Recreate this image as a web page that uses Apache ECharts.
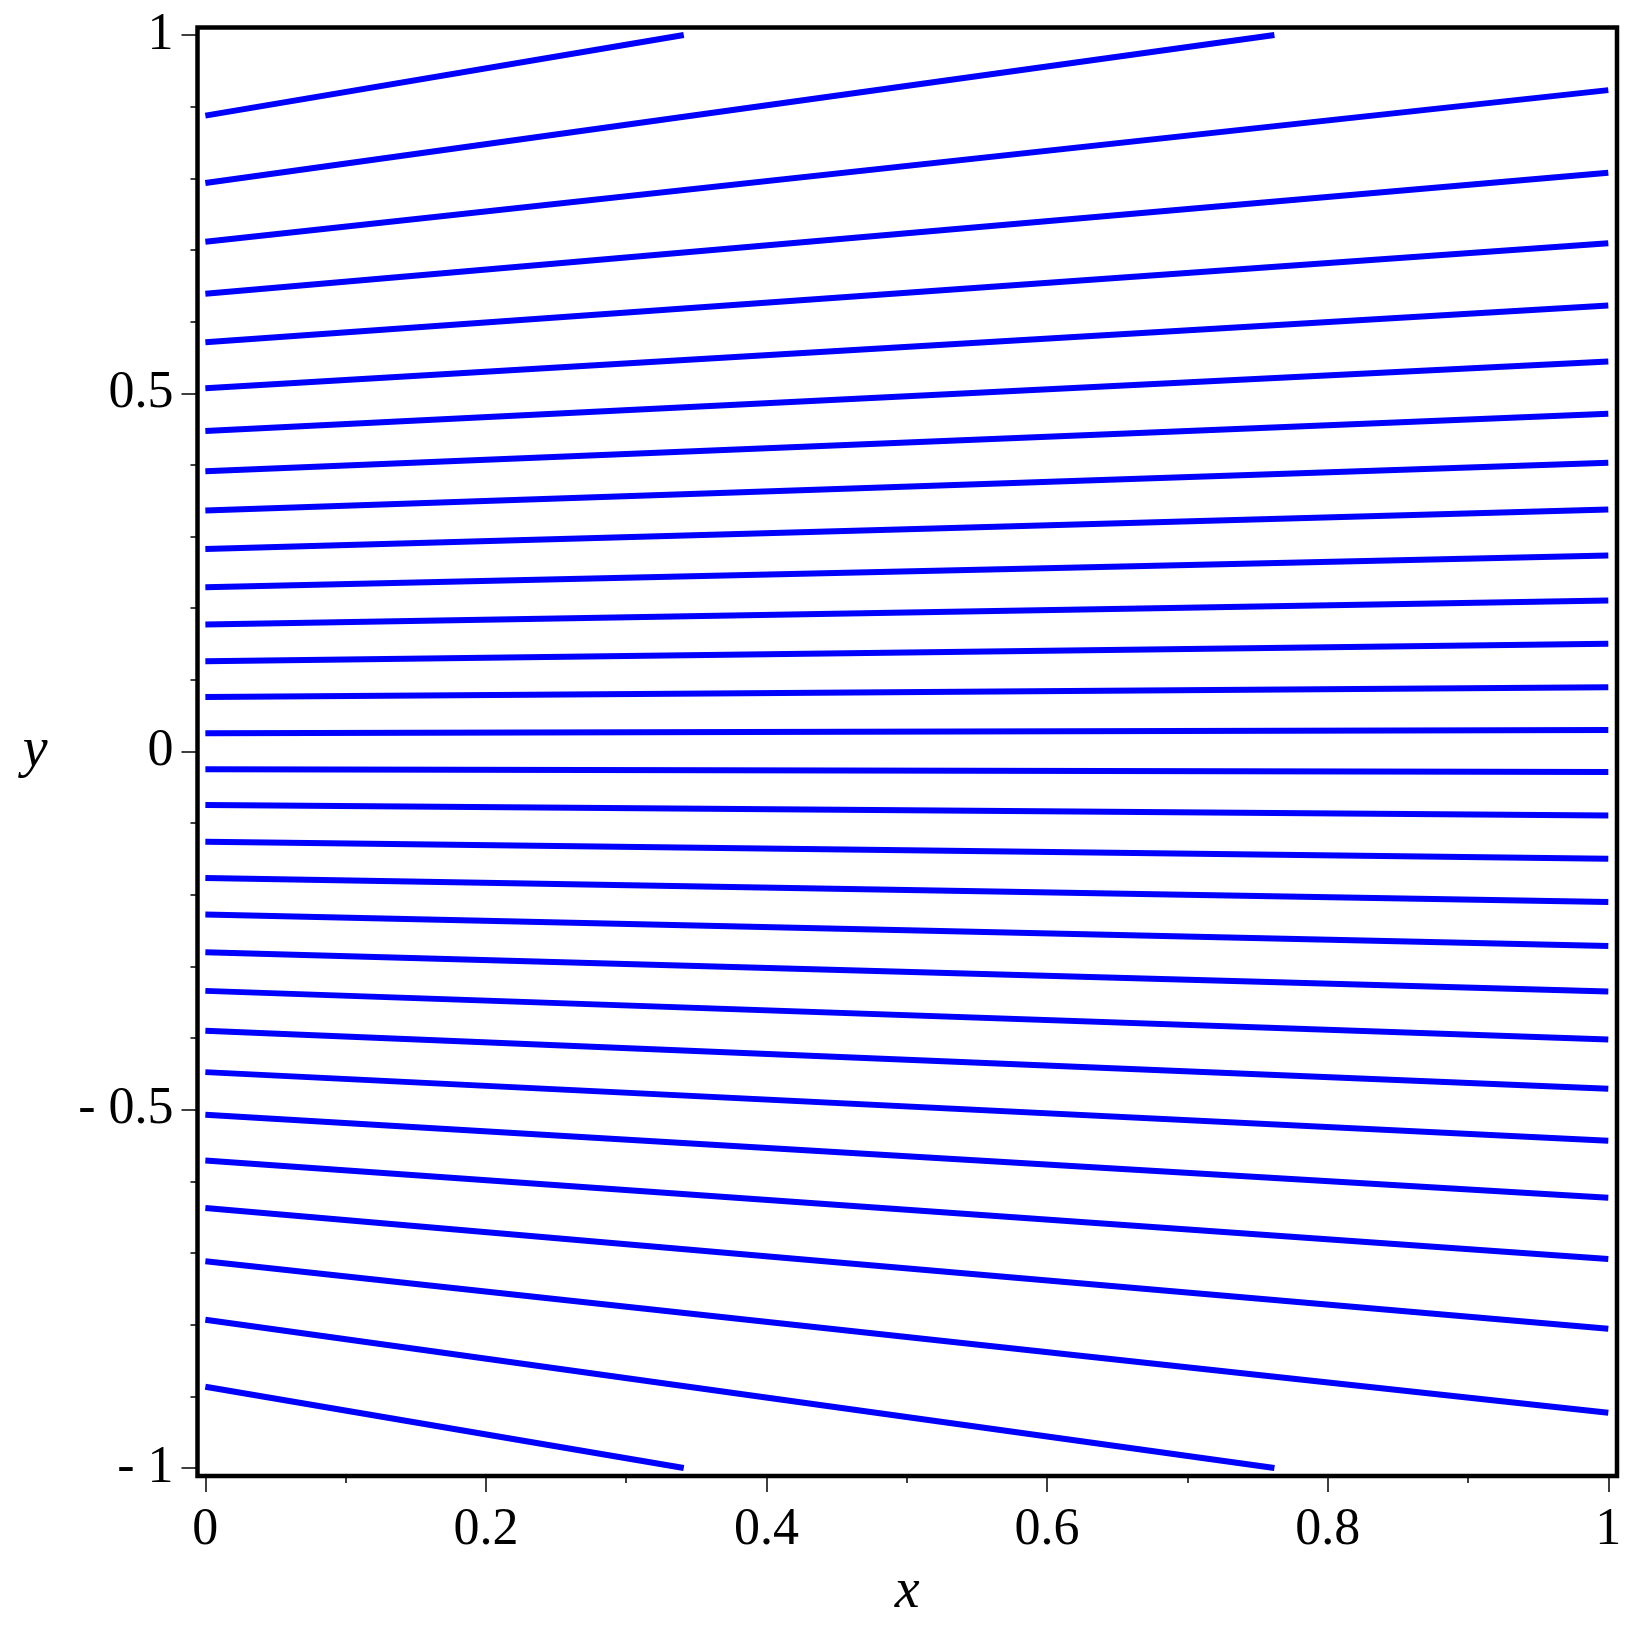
<!DOCTYPE html>
<html>
<head>
<meta charset="utf-8">
<script src="https://cdn.jsdelivr.net/npm/echarts@6/dist/echarts.min.js"></script>
<style>
html,body{margin:0;padding:0;background:#fff;}
#chart{width:1637px;height:1626px;}
</style>
</head>
<body>
<div id="chart"></div>
<script>
// Upper family of lines (y > 0): start at x = 0, end at (endX, endY)
const upperStartY = [0.8875, 0.7934, 0.7115, 0.6389, 0.5712, 0.5071, 0.4473, 0.3910, 0.3362, 0.2828, 0.2293, 0.1774, 0.1261, 0.0762, 0.0256];
const upperEndX   = [0.341, 0.762, 1, 1, 1, 1, 1, 1, 1, 1, 1, 1, 1, 1, 1];
const upperEndY   = [1, 1, 0.9231, 0.8077, 0.7094, 0.6225, 0.5442, 0.4715, 0.4031, 0.3376, 0.2735, 0.2108, 0.1503, 0.0897, 0.0299];
// Lower family of lines (y < 0)
const lowerStartY = [-0.0247, -0.0748, -0.1258, -0.1767, -0.2276, -0.2801, -0.3341, -0.3897, -0.4475, -0.5069, -0.5710, -0.6373, -0.7114, -0.7932, -0.8866];
const lowerEndX   = [1, 1, 1, 1, 1, 1, 1, 1, 1, 1, 1, 1, 1, 0.762, 0.341];
const lowerEndY   = [-0.0285, -0.0895, -0.1497, -0.2099, -0.2716, -0.3349, -0.4020, -0.4707, -0.5432, -0.6227, -0.7083, -0.8056, -0.9228, -1, -1];
// Tick values
const xMajorTicks = [0, 0.2, 0.4, 0.6, 0.8, 1];
const xMinorTicks = [0.1, 0.3, 0.5, 0.7, 0.9];
const yMajorTicks = [-1, -0.5, 0, 0.5, 1];
const yMinorTicks = [-0.9, -0.8, -0.7, -0.6, -0.4, -0.3, -0.2, -0.1, 0.1, 0.2, 0.3, 0.4, 0.6, 0.7, 0.8, 0.9];

const FONT = 'Liberation Serif';
const xMin = -0.0056, xMax = 1.0062, yMin = -1.0112, yMax = 1.0105;

function fmt(v) { return v < 0 ? '- ' + Math.abs(v) : String(v); }

const series = [];
function addFamily(startY, endX, endY) {
  for (let i = 0; i < startY.length; i++) {
    series.push({
      type: 'line',
      xAxisIndex: 0, yAxisIndex: 0,
      data: [[0, startY[i]], [endX[i], endY[i]]],
      showSymbol: false, symbol: 'none',
      lineStyle: { color: '#0000ff', width: 6, cap: 'butt' },
      silent: true, animation: false
    });
  }
}
addFamily(upperStartY, upperEndX, upperEndY);
addFamily(lowerStartY, lowerEndX, lowerEndY);

const tickStyle = { color: '#000', width: 1.5 };
const chart = echarts.init(document.getElementById('chart'), null, { renderer: 'canvas' });
chart.setOption({
  animation: false,
  backgroundColor: '#ffffff',
  grid: {
    left: 197.5, top: 27.5, right: 20, bottom: 150,
    show: true, borderColor: '#000', borderWidth: 4.5, backgroundColor: 'transparent'
  },
  xAxis: [
    {
      type: 'value', min: xMin, max: xMax, position: 'bottom',
      name: 'x', nameLocation: 'middle', nameGap: 88,
      nameTextStyle: { fontFamily: FONT, fontStyle: 'italic', fontSize: 56, color: '#000' },
      axisLine: { show: false, onZero: false },
      splitLine: { show: false },
      axisTick: { show: true, customValues: xMajorTicks, length: 16, lineStyle: tickStyle },
      axisLabel: { customValues: xMajorTicks, formatter: fmt, margin: 28, fontFamily: FONT, fontSize: 52, color: '#000' }
    },
    {
      type: 'value', min: xMin, max: xMax, position: 'bottom', offset: 0,
      axisLine: { show: false, onZero: false },
      splitLine: { show: false },
      axisTick: { show: true, customValues: xMinorTicks, length: 7, lineStyle: tickStyle },
      axisLabel: { show: false }
    }
  ],
  yAxis: [
    {
      type: 'value', min: yMin, max: yMax, position: 'left',
      name: 'y', nameLocation: 'middle', nameGap: 150, nameRotate: 0,
      nameTextStyle: { fontFamily: FONT, fontStyle: 'italic', fontSize: 56, color: '#000' },
      axisLine: { show: false, onZero: false },
      splitLine: { show: false },
      axisTick: { show: true, customValues: yMajorTicks, length: 16, lineStyle: tickStyle },
      axisLabel: { customValues: yMajorTicks, formatter: fmt, margin: 24, fontFamily: FONT, fontSize: 52, color: '#000', padding: [18, 0, 0, 0] }
    },
    {
      type: 'value', min: yMin, max: yMax, position: 'left', offset: 0,
      axisLine: { show: false, onZero: false },
      splitLine: { show: false },
      axisTick: { show: true, customValues: yMinorTicks, length: 7, lineStyle: tickStyle },
      axisLabel: { show: false }
    }
  ],
  series: series
});
</script>
</body>
</html>
